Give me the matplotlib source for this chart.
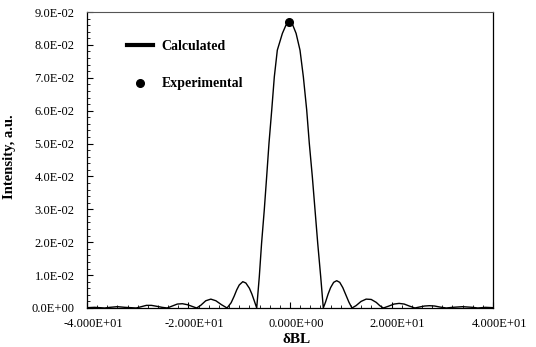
import matplotlib
matplotlib.use("Agg")
import matplotlib.pyplot as plt
import matplotlib.transforms as mtransforms
from matplotlib.lines import Line2D
from matplotlib.ticker import FuncFormatter, MultipleLocator

plt.rcParams['font.family'] = ['Liberation Serif', 'DejaVu Serif']

# calculated intensity vs dBL
calc_x = [-40.0, -38.5, -36.5, -35.5, -34.0, -32.5, -30.3,
          -29.3, -28.3, -27.3, -26.2, -25.2, -24.2,
          -23.2, -22.2, -21.2, -20.2, -19.3, -18.4,
          -17.6, -16.6, -15.6, -14.6, -13.5, -12.4,
          -11.6, -11.0, -10.5, -10.0, -9.3, -8.7, -8.0, -7.5, -7.0, -6.56,
          -6.05, -5.6, -5.07, -4.6, -4.14, -3.6, -3.09, -2.5, -1.5, -0.8, -0.2,
          0.5, 1.2, 1.97, 2.63, 3.29, 3.8, 4.4, 4.93, 5.46, 6.05, 6.56,
          7.0, 7.5, 8.0, 8.6, 9.2, 9.8, 10.4, 11.0, 11.6, 12.2,
          13.0, 14.0, 15.0, 16.0, 17.0, 17.7, 18.4,
          19.5, 20.5, 21.5, 22.5, 23.5, 24.6,
          25.5, 26.5, 27.5, 28.5, 29.5, 30.8,
          32.0, 34.0, 36.0, 37.0, 38.5, 40.0]
calc_y = [0.0001, 0.0002, 0.0, 0.0002, 0.0004, 0.0002, 0.0,
          0.0004, 0.0008, 0.0008, 0.0005, 0.0002, 0.0,
          0.0006, 0.0012, 0.0013, 0.0010, 0.0005, 0.0,
          0.0008, 0.0022, 0.0027, 0.0022, 0.0010, 0.0,
          0.0016, 0.0036, 0.0055, 0.0070, 0.0080, 0.0076, 0.0060, 0.0042, 0.0020, 0.0,
          0.0095, 0.0197, 0.0298, 0.0399, 0.0501, 0.0602, 0.0703, 0.0784, 0.0835, 0.0860, 0.0866,
          0.0862, 0.0835, 0.0784, 0.0703, 0.0602, 0.0501, 0.0399, 0.0298, 0.0197, 0.0095, 0.0,
          0.0018, 0.0042, 0.0062, 0.0078, 0.0083, 0.0078, 0.0062, 0.0040, 0.0018, 0.0,
          0.0007, 0.0020, 0.0027, 0.0026, 0.0017, 0.0007, 0.0,
          0.0006, 0.0012, 0.0014, 0.0012, 0.0006, 0.0,
          0.0003, 0.0006, 0.0007, 0.0006, 0.0003, 0.0,
          0.0002, 0.0004, 0.0002, 0.0, 0.0002, 0.0001]

# experimental point
exp_x = [-0.2]
exp_y = [0.0870]

fig = plt.figure(figsize=(5.36, 3.47), dpi=100)
ax = fig.add_axes([0.1623, 0.1124, 0.7575, 0.8530])

ax.plot(calc_x, calc_y, color='black', lw=1.0)
ax.plot(exp_x, exp_y, 'o', color='black', ms=5.5)

ax.set_xlim(-40, 40)
ax.set_ylim(0, 0.09)

ax.xaxis.set_major_locator(MultipleLocator(20))
ax.xaxis.set_minor_locator(MultipleLocator(2))
ax.yaxis.set_major_locator(MultipleLocator(0.01))
ax.yaxis.set_minor_locator(MultipleLocator(0.002))
ax.xaxis.set_major_formatter(FuncFormatter(lambda v, p: '{:.3E}'.format(v)))
ax.yaxis.set_major_formatter(FuncFormatter(lambda v, p: '{:.1E}'.format(v)))

ax.tick_params(axis='both', which='both', direction='in', top=False, right=False)
ax.tick_params(axis='y', which='major', length=4, pad=9, labelsize=9)
ax.tick_params(axis='y', which='minor', length=2)
ax.tick_params(axis='x', which='major', length=4, pad=7, labelsize=9)
ax.tick_params(axis='x', which='minor', length=2)

# x tick labels sit a bit right of their ticks
shift = mtransforms.ScaledTranslation(6 / 100, 0, fig.dpi_scale_trans)
for lab in ax.get_xticklabels():
    lab.set_transform(lab.get_transform() + shift)

for s in ['left', 'bottom', 'right']:
    ax.spines[s].set_linewidth(0.9)
ax.spines['top'].set_color('#555555')
ax.spines['top'].set_linewidth(0.8)

ax.set_ylabel('Intensity, a.u.', fontsize=10.5, fontweight='bold')
ax.yaxis.set_label_coords(-0.176, 0.51)
ax.set_xlabel('δBL', fontsize=11, fontweight='bold', va='center')
ax.xaxis.set_label_coords(0.515, -0.105)

handles = [Line2D([], [], color='black', lw=3),
           Line2D([], [], color='black', marker='o', ls='none', ms=5.5)]
ax.legend(handles, ['Calculated', 'Experimental'], loc='upper left',
          bbox_to_anchor=(0.098, 0.905), frameon=False, borderpad=0,
          borderaxespad=0, handlelength=1.9, handletextpad=0.6,
          labelspacing=1.75, prop={'weight': 'bold', 'size': 10})

fig.savefig('out.png', dpi=100)
